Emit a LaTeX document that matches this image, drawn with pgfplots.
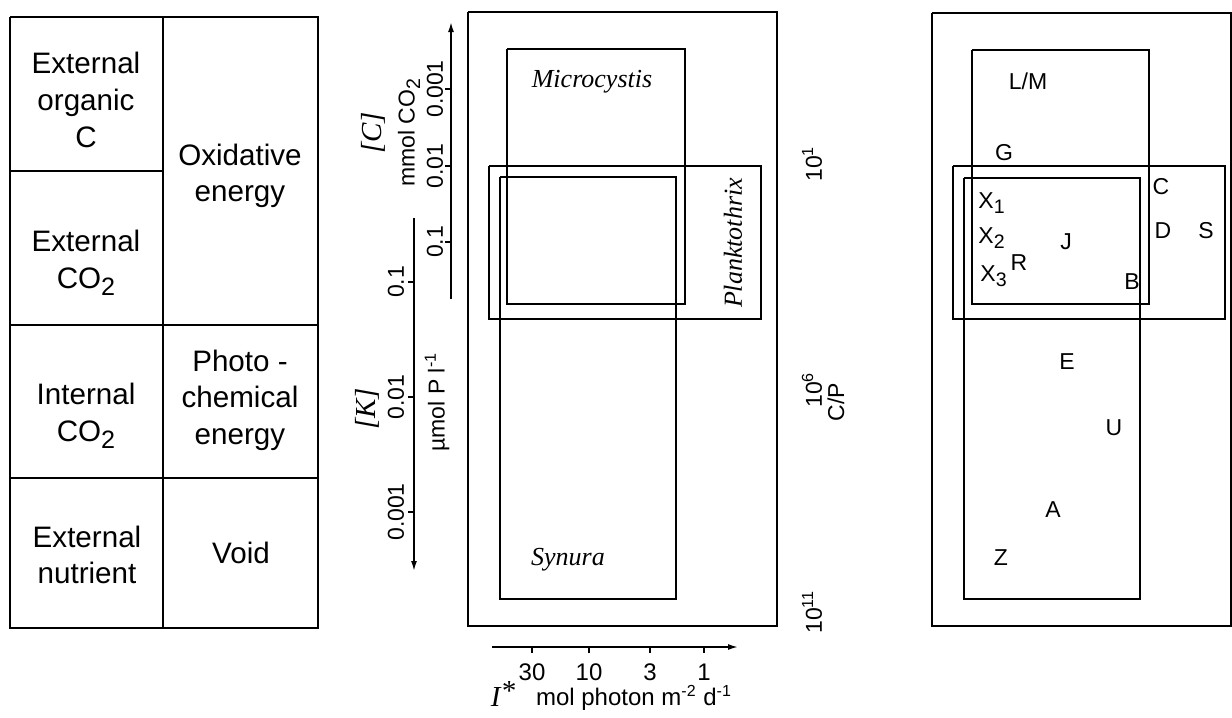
\documentclass[border=0pt]{standalone}
\usepackage{fontspec}
\setmainfont{Liberation Sans}
\newfontfamily\tnr{Liberation Serif}
\usepackage{pgfplots}
\pgfplotsset{compat=1.18}
\usetikzlibrary{arrows.meta}
\newcommand\sub[1]{\raisebox{-0.45ex}{\scalebox{0.85}{#1}}}
\newcommand\rect[4]{\addplot[black,line width=1pt,line join=miter] coordinates {(#1,#2) (#3,#2) (#3,#4) (#1,#4) (#1,#2)};}
\begin{document}
\begin{tikzpicture}[
  tab/.style={font=\fontsize{14.8}{18.3}\selectfont,align=center},
  ax/.style={font=\fontsize{11.5}{13}\selectfont},
  bx/.style={font=\fontsize{12}{14}\selectfont},
  lt/.style={font=\fontsize{11.5}{13}\selectfont}]
\begin{axis}[x=0.5pt,y=0.5pt,y dir=reverse,xmin=0,xmax=1232,ymin=0,ymax=711,
  hide axis,clip=false]
\addplot[draw=none] coordinates {(0,0) (1232,711)};
% ---------- table ----------
\addplot[black,line width=0.9pt,line join=miter] coordinates {(10,17) (318,17) (318,628) (10,628) (10,17)};
\addplot[black,line width=0.8pt] coordinates {(163,17) (163,628)};
\addplot[black,line width=0.8pt] coordinates {(10,171) (163,171)};
\addplot[black,line width=0.8pt] coordinates {(10,325) (318,325)};
\addplot[black,line width=0.8pt] coordinates {(10,478) (318,478)};
\node[tab] at (axis cs:86,100) {External\\organic\\C};
\node[tab] at (axis cs:240,176) {Oxidative\\energy};
\node[tab] at (axis cs:86,263) {External\\CO\sub{2}};
\node[tab] at (axis cs:86,416) {Internal\\CO\sub{2}};
\node[tab] at (axis cs:240,400) {Photo -\\chemical\\energy};
\node[tab] at (axis cs:87,555) {External\\nutrient};
\node[tab] at (axis cs:241,553) {Void};
% ---------- middle panel ----------
\rect{468}{12}{777}{626}
\rect{507}{49}{685}{304}
\rect{489}{166}{761}{319}
\rect{500}{177}{676}{599}
\node[font=\tnr\itshape\fontsize{13}{15}\selectfont] at (axis cs:592,82) {Microcystis};
\node[font=\tnr\itshape\fontsize{13}{15}\selectfont,rotate=90] at (axis cs:733,243) {Planktothrix};
\node[font=\tnr\itshape\fontsize{13}{15}\selectfont] at (axis cs:568,560) {Synura};
% [C] axis
\addplot[black,line width=0.8pt,-{Latex[length=5pt,width=3pt]}] coordinates {(451,299) (451,22)};
\addplot[black,line width=0.8pt] coordinates {(445,89) (451,89)};
\addplot[black,line width=0.8pt] coordinates {(445,166) (451,166)};
\addplot[black,line width=0.8pt] coordinates {(445,242) (451,242)};
\node[ax,rotate=90] at (axis cs:435,89) {0.001};
\node[ax,rotate=90] at (axis cs:435,166) {0.01};
\node[ax,rotate=90] at (axis cs:435,242) {0.1};
\node[ax,rotate=90] at (axis cs:409,133) {mmol CO\sub{2}};
\node[font=\tnr\itshape\fontsize{14.5}{16}\selectfont,rotate=90] at (axis cs:373,133) {[C]};
% [K] axis
\addplot[black,line width=0.8pt,-{Latex[length=5pt,width=3pt]}] coordinates {(414,218) (414,571)};
\addplot[black,line width=0.8pt] coordinates {(408,282) (414,282)};
\addplot[black,line width=0.8pt] coordinates {(408,397) (414,397)};
\addplot[black,line width=0.8pt] coordinates {(408,512) (414,512)};
\node[ax,rotate=90] at (axis cs:396,282) {0.1};
\node[ax,rotate=90] at (axis cs:396,397) {0.01};
\node[ax,rotate=90] at (axis cs:396,512) {0.001};
\node[ax,rotate=90] at (axis cs:437,402) {µmol P l\textsuperscript{-1}};
\node[font=\tnr\itshape\fontsize{14.5}{16}\selectfont,rotate=90] at (axis cs:367,409) {[K]};
% I* axis
\addplot[black,line width=0.8pt,-{Latex[length=5pt,width=3pt]}] coordinates {(492,647) (738,647)};
\addplot[black,line width=0.8pt] coordinates {(532,647) (532,653)};
\addplot[black,line width=0.8pt] coordinates {(589,647) (589,653)};
\addplot[black,line width=0.8pt] coordinates {(650,647) (650,653)};
\addplot[black,line width=0.8pt] coordinates {(704,647) (704,653)};
\node[bx] at (axis cs:532,672) {30};
\node[bx] at (axis cs:589,672) {10};
\node[bx] at (axis cs:650,672) {3};
\node[bx] at (axis cs:704,672) {1};
\node[font=\tnr\itshape\fontsize{14.5}{17}\selectfont] at (axis cs:503,694) {I\raisebox{0.5ex}{*}};
\node[bx] at (axis cs:634,698) {mol photon m\textsuperscript{-2} d\textsuperscript{-1}};
% C/P labels
\node[ax,rotate=90] at (axis cs:812,164) {10\textsuperscript{1}};
\node[ax,rotate=90] at (axis cs:812,390) {10\textsuperscript{6}};
\node[ax,rotate=90] at (axis cs:836,402) {C/P};
\node[ax,rotate=90] at (axis cs:812,612) {10\textsuperscript{11}};
% ---------- right panel ----------
\rect{932}{13}{1231}{626}
\rect{972}{50}{1149}{304}
\rect{953}{166}{1225}{319}
\rect{964}{178}{1140}{599}
\node[lt] at (axis cs:1028,81) {L/M};
\node[lt] at (axis cs:1004,153) {G};
\node[lt] at (axis cs:1161,187) {C};
\node[lt,anchor=base west,inner sep=0pt] at (axis cs:978,208) {X\sub{1}};
\node[lt,anchor=base west,inner sep=0pt] at (axis cs:978,243) {X\sub{2}};
\node[lt,anchor=base west,inner sep=0pt] at (axis cs:980,281) {X\sub{3}};
\node[lt] at (axis cs:1019,263) {R};
\node[lt] at (axis cs:1066,242) {J};
\node[lt] at (axis cs:1163,231) {D};
\node[lt] at (axis cs:1206,231) {S};
\node[lt] at (axis cs:1132,282) {B};
\node[lt] at (axis cs:1067,362) {E};
\node[lt] at (axis cs:1114,428) {U};
\node[lt] at (axis cs:1053,510) {A};
\node[lt] at (axis cs:1001,558) {Z};
\end{axis}
\end{tikzpicture}
\end{document}
